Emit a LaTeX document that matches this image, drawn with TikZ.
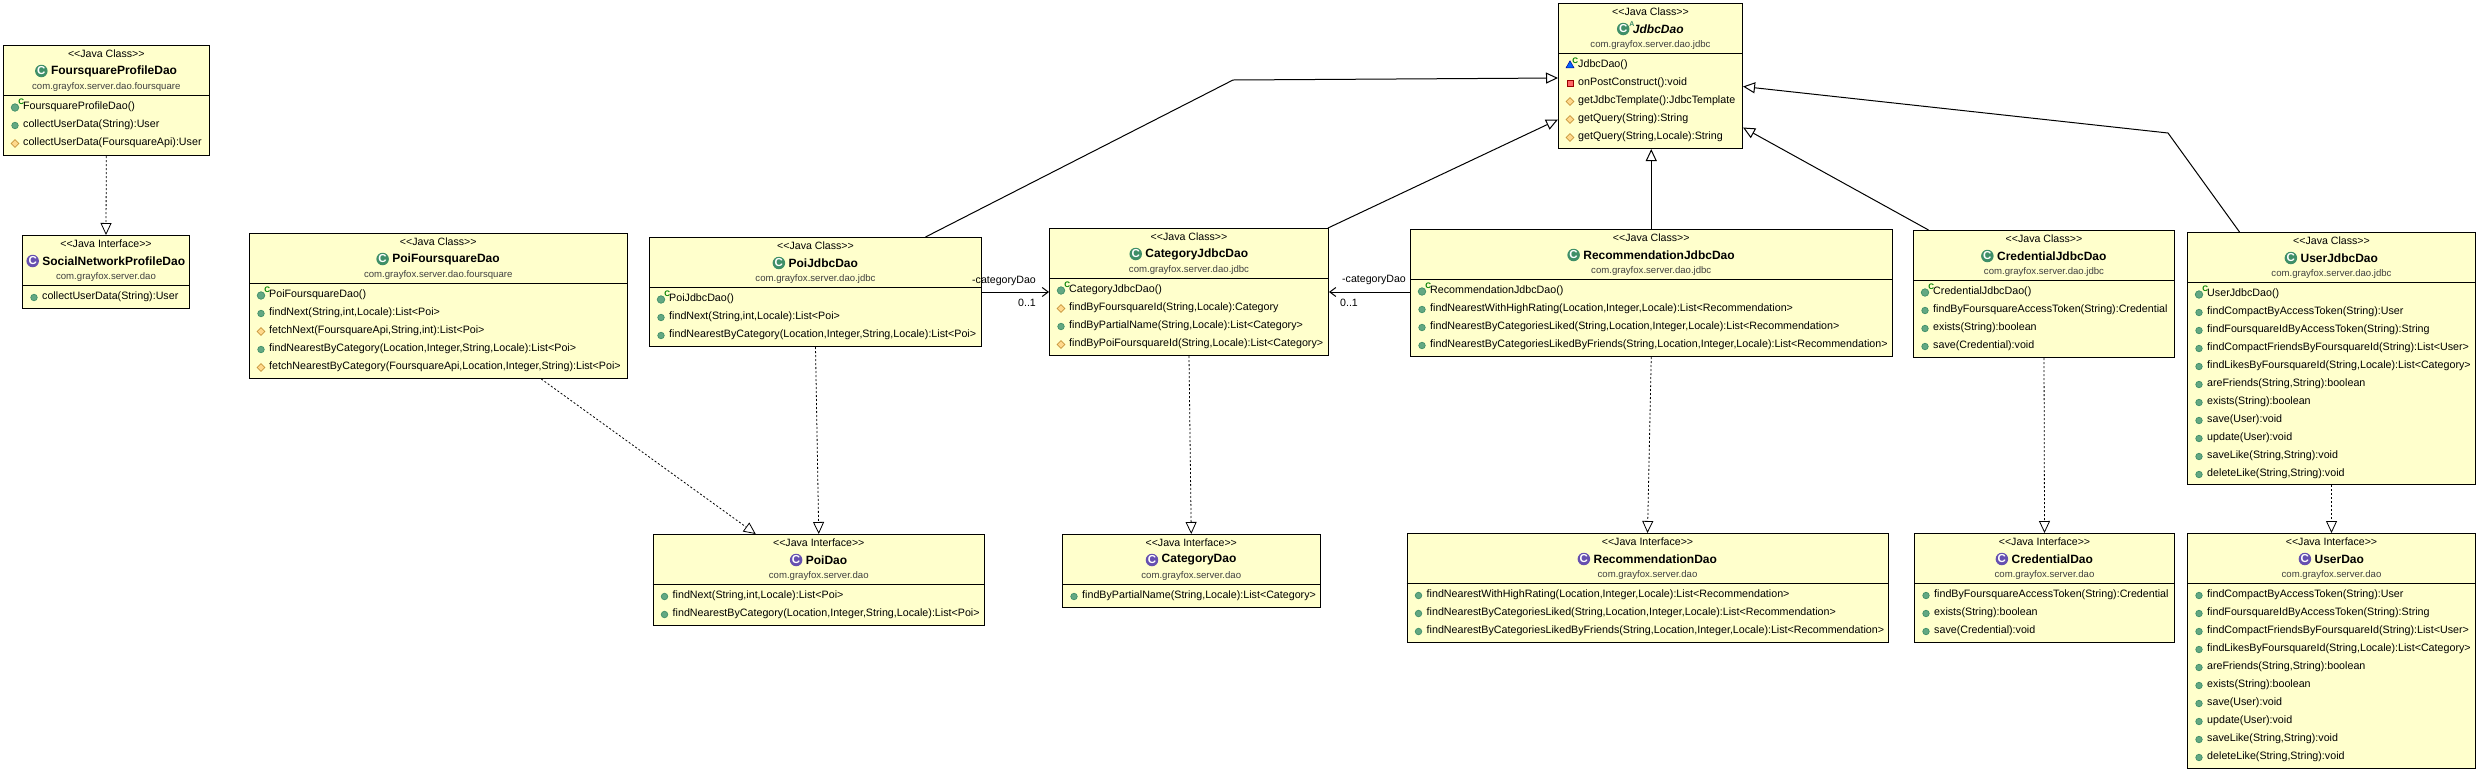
\documentclass[tikz,border=0pt]{standalone}
\usepackage{fontspec}
\setmainfont{Liberation Sans}
\usepackage{xcolor}
\usetikzlibrary{shapes.geometric, arrows.meta, positioning, calc}
\definecolor{boxyellow}{HTML}{FFFFCC}
\definecolor{icongreen}{HTML}{3F8F68}
\definecolor{dotgreen}{HTML}{63A883}
\definecolor{iconpurple}{HTML}{6650B0}
\definecolor{pkggray}{HTML}{404040}
\definecolor{protfill}{HTML}{FFD98C}
\definecolor{protedge}{HTML}{C8963C}
\tikzstyle{block} = [rectangle, draw=black, line width=1pt, fill=boxyellow, inner sep=0pt, anchor=north west]
\tikzstyle{stereo} = [inner sep=0pt, font=\fontsize{10.6}{12}\selectfont]
\tikzstyle{title} = [inner sep=0pt, font=\fontsize{12}{14}\selectfont\bfseries]
\tikzstyle{pkg} = [inner sep=0pt, text=pkggray, font=\fontsize{9.6}{11}\selectfont]
\tikzstyle{row} = [inner sep=0pt, anchor=west, text height=8pt, text depth=2pt, font=\fontsize{10.7}{12}\selectfont]
\tikzstyle{classico} = [circle, fill=icongreen, text=white, inner sep=0pt, minimum size=12.5pt, font=\fontsize{11.5}{11}\selectfont\bfseries]
\tikzstyle{ifaceico} = [classico, fill=iconpurple]
\tikzstyle{absico} = [classico, label={[inner sep=0pt, text=icongreen, font=\fontsize{7}{7}\selectfont\bfseries]25:A}]
\tikzstyle{pubico} = [circle, draw=icongreen, fill=dotgreen, line width=.7pt, inner sep=0pt, minimum size=6.5pt]
\tikzstyle{protico} = [diamond, draw=protedge, fill=protfill, line width=.7pt, inner sep=0pt, minimum size=8pt]
\tikzstyle{privico} = [rectangle, draw=red!60!black, fill=red!60!white, line width=.7pt, inner sep=0pt, minimum size=6pt]
\tikzstyle{ctorico} = [pubico, minimum size=7.5pt, label={[inner sep=0pt, text=green!50!black, font=\fontsize{8}{8}\selectfont\bfseries]40:C}]
\tikzstyle{ctorpkg} = [isosceles triangle, shape border rotate=90, isosceles triangle stretches, draw=blue!60!black, fill=blue!60!cyan, line width=.5pt, inner sep=0pt, minimum width=8pt, minimum height=7pt, label={[inner sep=0pt, text=green!50!black, font=\fontsize{8}{8}\selectfont\bfseries]40:C}]
\tikzstyle{arrow} = [line width=1pt]
\tikzstyle{gen} = [arrow, -{Triangle[open, fill=white, length=12pt, width=11pt]}]
\tikzstyle{realize} = [gen, line width=.8pt, dash pattern=on 2pt off 2pt]
\tikzstyle{assoc} = [arrow, -{Straight Barb[length=6pt, width=9pt]}]
\tikzstyle{rolelabel} = [inner sep=0pt, font=\fontsize{10.6}{12}\selectfont]

\newcommand{\umlbox}[9]{
  \node (#1) [block, minimum width=#3pt, minimum height=#4pt] at #2 {};
  \draw [arrow] ([yshift=-50pt]#1.north west) -- ([yshift=-50pt]#1.north east);
  \node (#1-stereo) [stereo] at ([yshift=-9pt]#1.north) {#5};
  \node (#1-title) [title] at ([yshift=-26pt]#1.north) {\hspace{15.5pt}#7};
  \node (#1-icon) [#6] at ([xshift=6pt]#1-title.west) {\ifx#6ifaceico I\else C\fi};
  \node (#1-pkg) [pkg] at ([yshift=-42pt]#1.north) {#8};
  \foreach \ico/\txt [count=\i] in {#9} {
    \node (#1-row\i) [row] at ([xshift=20pt, yshift=-43.5pt-18pt*\i]#1.north west) {\txt};
    \node (#1-ico\i) [\ico] at ([xshift=12pt, yshift=-44.5pt-18pt*\i]#1.north west) {};
  }
}

\begin{document}
\begin{tikzpicture}[x=1pt, y=-1pt]
\useasboundingbox (0,0) rectangle (2479,772);

\umlbox{foursquare}{(3,45)}{205.6}{110}{<{}<Java Class>{}>}{classico}{FoursquareProfileDao}{com.grayfox.server.dao.foursquare}{
  ctorico/{FoursquareProfileDao()},
  pubico/{collectUserData(String):User},
  protico/{collectUserData(FoursquareApi):User}}
\umlbox{social}{(22,235)}{167}{73}{<{}<Java Interface>{}>}{ifaceico}{SocialNetworkProfileDao}{com.grayfox.server.dao}{
  pubico/{collectUserData(String):User}}
\umlbox{poifoursquare}{(249,233)}{377.5}{145}{<{}<Java Class>{}>}{classico}{PoiFoursquareDao}{com.grayfox.server.dao.foursquare}{
  ctorico/{PoiFoursquareDao()},
  pubico/{findNext(String,int,Locale):List<Poi>},
  protico/{fetchNext(FoursquareApi,String,int):List<Poi>},
  pubico/{findNearestByCategory(Location,Integer,String,Locale):List<Poi>},
  protico/{fetchNearestByCategory(FoursquareApi,Location,Integer,String):List<Poi>}}
\umlbox{poijdbc}{(649,237)}{332}{109}{<{}<Java Class>{}>}{classico}{PoiJdbcDao}{com.grayfox.server.dao.jdbc}{
  ctorico/{PoiJdbcDao()},
  pubico/{findNext(String,int,Locale):List<Poi>},
  pubico/{findNearestByCategory(Location,Integer,String,Locale):List<Poi>}}
\umlbox{catjdbc}{(1049,228)}{279}{127}{<{}<Java Class>{}>}{classico}{CategoryJdbcDao}{com.grayfox.server.dao.jdbc}{
  ctorico/{CategoryJdbcDao()},
  protico/{findByFoursquareId(String,Locale):Category},
  pubico/{findByPartialName(String,Locale):List<Category>},
  protico/{findByPoiFoursquareId(String,Locale):List<Category>}}
\umlbox{recjdbc}{(1410,229)}{481.5}{127}{<{}<Java Class>{}>}{classico}{RecommendationJdbcDao}{com.grayfox.server.dao.jdbc}{
  ctorico/{RecommendationJdbcDao()},
  pubico/{findNearestWithHighRating(Location,Integer,Locale):List<Recommendation>},
  pubico/{findNearestByCategoriesLiked(String,Location,Integer,Locale):List<Recommendation>},
  pubico/{findNearestByCategoriesLikedByFriends(String,Location,Integer,Locale):List<Recommendation>}}
\umlbox{credjdbc}{(1913,230)}{261}{127}{<{}<Java Class>{}>}{classico}{CredentialJdbcDao}{com.grayfox.server.dao.jdbc}{
  ctorico/{CredentialJdbcDao()},
  pubico/{findByFoursquareAccessToken(String):Credential},
  pubico/{exists(String):boolean},
  pubico/{save(Credential):void}}
\umlbox{userjdbc}{(2187,232)}{288}{252}{<{}<Java Class>{}>}{classico}{UserJdbcDao}{com.grayfox.server.dao.jdbc}{
  ctorico/{UserJdbcDao()},
  pubico/{findCompactByAccessToken(String):User},
  pubico/{findFoursquareIdByAccessToken(String):String},
  pubico/{findCompactFriendsByFoursquareId(String):List<User>},
  pubico/{findLikesByFoursquareId(String,Locale):List<Category>},
  pubico/{areFriends(String,String):boolean},
  pubico/{exists(String):boolean},
  pubico/{save(User):void},
  pubico/{update(User):void},
  pubico/{saveLike(String,String):void},
  pubico/{deleteLike(String,String):void}}
\umlbox{jdbc}{(1558,3)}{184}{145}{<{}<Java Class>{}>}{absico}{\itshape JdbcDao}{com.grayfox.server.dao.jdbc}{
  ctorpkg/{JdbcDao()},
  privico/{onPostConstruct():void},
  protico/{getJdbcTemplate():JdbcTemplate},
  protico/{getQuery(String):String},
  protico/{getQuery(String,Locale):String}}
\umlbox{poidao}{(652.5,534)}{331.5}{91}{<{}<Java Interface>{}>}{ifaceico}{PoiDao}{com.grayfox.server.dao}{
  pubico/{findNext(String,int,Locale):List<Poi>},
  pubico/{findNearestByCategory(Location,Integer,String,Locale):List<Poi>}}
\umlbox{catdao}{(1062,534)}{257.5}{73}{<{}<Java Interface>{}>}{ifaceico}{CategoryDao}{com.grayfox.server.dao}{
  pubico/{findByPartialName(String,Locale):List<Category>}}
\umlbox{recdao}{(1406.5,533)}{481}{109}{<{}<Java Interface>{}>}{ifaceico}{RecommendationDao}{com.grayfox.server.dao}{
  pubico/{findNearestWithHighRating(Location,Integer,Locale):List<Recommendation>},
  pubico/{findNearestByCategoriesLiked(String,Location,Integer,Locale):List<Recommendation>},
  pubico/{findNearestByCategoriesLikedByFriends(String,Location,Integer,Locale):List<Recommendation>}}
\umlbox{creddao}{(1914,533)}{260}{109}{<{}<Java Interface>{}>}{ifaceico}{CredentialDao}{com.grayfox.server.dao}{
  pubico/{findByFoursquareAccessToken(String):Credential},
  pubico/{exists(String):boolean},
  pubico/{save(Credential):void}}
\umlbox{userdao}{(2187,533)}{288}{235}{<{}<Java Interface>{}>}{ifaceico}{UserDao}{com.grayfox.server.dao}{
  pubico/{findCompactByAccessToken(String):User},
  pubico/{findFoursquareIdByAccessToken(String):String},
  pubico/{findCompactFriendsByFoursquareId(String):List<User>},
  pubico/{findLikesByFoursquareId(String,Locale):List<Category>},
  pubico/{areFriends(String,String):boolean},
  pubico/{exists(String):boolean},
  pubico/{save(User):void},
  pubico/{update(User):void},
  pubico/{saveLike(String,String):void},
  pubico/{deleteLike(String,String):void}}

\coordinate (bendpoi) at (1233,80);
\coordinate (benduser) at (2168,133);

\draw [gen] ([xshift=110pt]poijdbc.north) -- (bendpoi) -- ([yshift=-2pt]jdbc.west);
\draw [gen] ([xshift=139pt]catjdbc.north) -- ([yshift=-43.5pt]jdbc.west);
\draw [gen] (recjdbc.north) -- (jdbc.south -| recjdbc.north);
\draw [gen] ([xshift=-115.5pt]credjdbc.north) -- ([yshift=-51.5pt]jdbc.east);
\draw [gen] ([xshift=-92pt]userjdbc.north) -- (benduser) -- ([yshift=-10.5pt]jdbc.east);

\draw [realize] (foursquare.south) -- (social.north);
\draw [realize] ([xshift=103pt]poifoursquare.south) -- ([xshift=-63pt]poidao.north);
\draw [realize] (poijdbc.south) -- (poidao.north);
\draw [realize] (catjdbc.south) -- (catdao.north);
\draw [realize] (recjdbc.south) -- (recdao.north);
\draw [realize] (credjdbc.south) -- (creddao.north);
\draw [realize] (userjdbc.south) -- (userdao.north);

\draw [assoc] (poijdbc.east |- 0,292) -- (catjdbc.west |- 0,292);
\draw [assoc] (recjdbc.west |- 0,292) -- (catjdbc.east |- 0,292);

\node (poirole) [rolelabel] at (1004,281) {-categoryDao};
\node (poimult) [rolelabel] at (1027,303) {0..1};
\node (recrole) [rolelabel] at (1374,280) {-categoryDao};
\node (recmult) [rolelabel] at (1349,303) {0..1};
\end{tikzpicture}
\end{document}
